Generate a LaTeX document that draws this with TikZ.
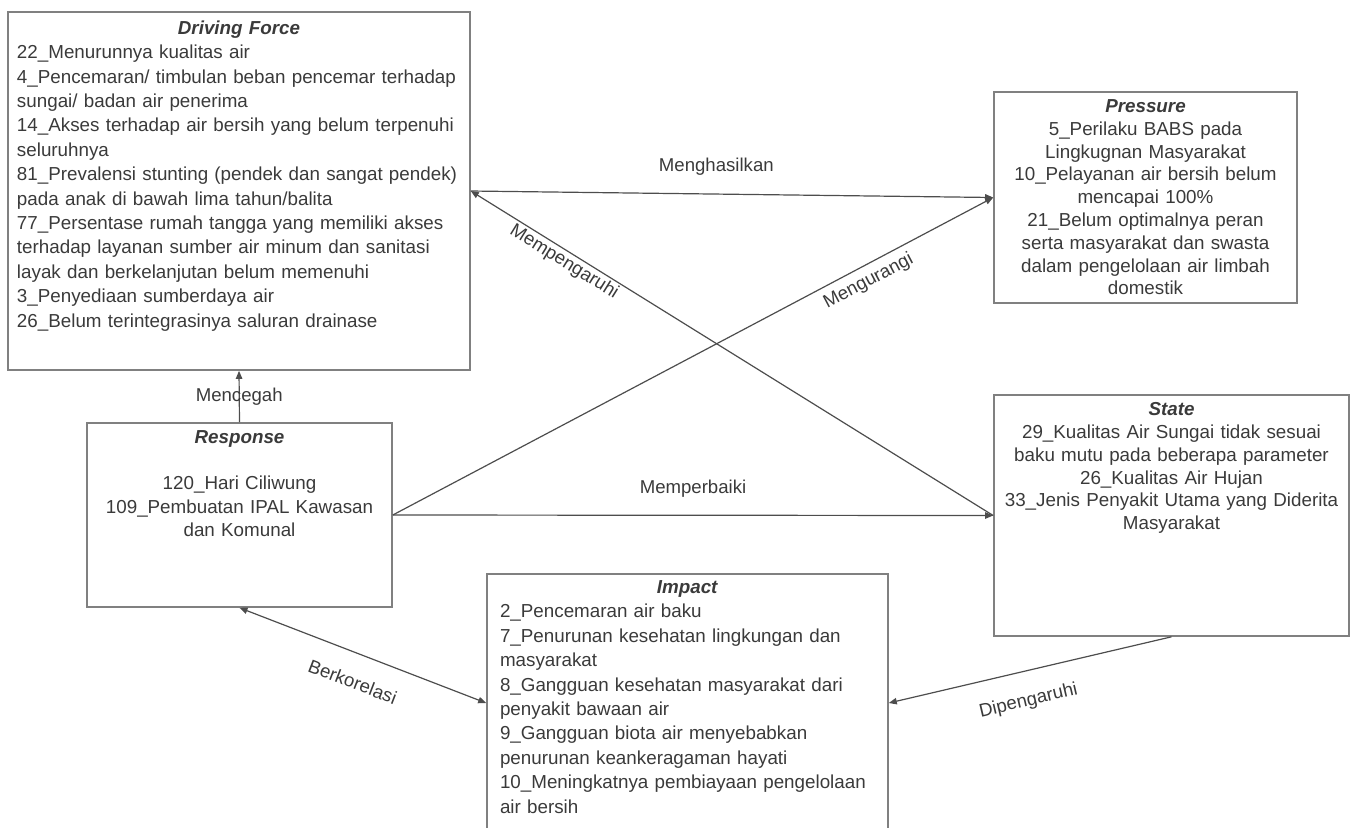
\documentclass[tikz,border=0pt]{standalone}
\usepackage{fontspec}
\setmainfont{Liberation Sans}
\usetikzlibrary{positioning,arrows.meta}
\definecolor{boxgray}{HTML}{808080}
\definecolor{linegray}{HTML}{4D4D4D}
\definecolor{txtgray}{HTML}{3A3A3A}
\newcommand{\ttl}[1]{\textbf{\textit{#1}}}
\newcommand{\midttl}[1]{\makebox[\linewidth]{\ttl{#1}}}
\begin{document}
\begin{tikzpicture}[x=0.5pt,y=-0.5pt,
  box/.style={draw=boxgray, line width=0.8pt, inner sep=0pt},
  txt/.style={inner sep=0pt, text=txtgray, font=\fontsize{9.4}{12.2}\selectfont},
  arr/.style={draw=linegray, line width=0.6pt, -{Triangle[length=4pt,width=3.2pt]}},
  lbl/.style={text=txtgray, font=\fontsize{9.3}{11}\selectfont}]
\useasboundingbox (0,0) rectangle (1357,827);
\node [box, minimum width=231pt, minimum height=179pt] (df) at (239,191) {};
\node [box, minimum width=151.5pt, minimum height=105.5pt] (pressure) at (1145.5,197.5) {};
\node [box, minimum width=177.5pt, minimum height=120.5pt] (state) at (1171.5,515.5) {};
\node [box, minimum width=152.5pt, minimum height=92pt] (response) at (239.5,515) {};
\node [box, minimum width=200.5pt, minimum height=129pt] (impact) at (687.5,703) {};
\node [txt, text width=222pt, align=left, below=4.5pt of df.north] (dftext) {\midttl{Driving Force}\\22\_Menurunnya kualitas air\\4\_Pencemaran/ timbulan beban pencemar terhadap\\sungai/ badan air penerima\\14\_Akses terhadap air bersih yang belum terpenuhi\\seluruhnya\\81\_Prevalensi stunting (pendek dan sangat pendek)\\pada anak di bawah lima tahun/balita\\77\_Persentase rumah tangga yang memiliki akses\\terhadap layanan sumber air minum dan sanitasi\\layak dan berkelanjutan belum memenuhi\\3\_Penyediaan sumberdaya air\\26\_Belum terintegrasinya saluran drainase};
\node [txt, text width=148pt, align=center, font=\fontsize{9.4}{11.4}\selectfont, below=4pt of pressure.north] (prtext) {\ttl{Pressure}\\5\_Perilaku BABS pada\\Lingkugnan Masyarakat\\10\_Pelayanan air bersih belum\\mencapai 100\%\\21\_Belum optimalnya peran\\serta masyarakat dan swasta\\dalam pengelolaan air limbah\\domestik};
\node [txt, text width=172pt, align=center, font=\fontsize{9.4}{11.4}\selectfont, below=4pt of state.north] (sttext) {\ttl{State}\\29\_Kualitas Air Sungai tidak sesuai\\baku mutu pada beberapa parameter\\26\_Kualitas Air Hujan\\33\_Jenis Penyakit Utama yang Diderita\\Masyarakat};
\node [txt, text width=148pt, align=center, font=\fontsize{9.4}{11.6}\selectfont, below=4pt of response.north] (retext) {\ttl{Response}\\[11.6pt]120\_Hari Ciliwung\\109\_Pembuatan IPAL Kawasan\\dan Komunal};
\node [txt, text width=187.5pt, align=left, below=3.5pt of impact.north] (imtext) {\midttl{Impact}\\2\_Pencemaran air baku\\7\_Penurunan kesehatan lingkungan dan\\masyarakat\\8\_Gangguan kesehatan masyarakat dari\\penyakit bawaan air\\9\_Gangguan biota air menyebabkan\\penurunan keankeragaman hayati\\10\_Meningkatnya pembiayaan pengelolaan\\air bersih};
\draw [arr] (df.east) -- node [lbl, above=5.5pt, pos=0.47] {Menghasilkan} (pressure.west);
\draw [arr] (state.west) -- node [lbl, sloped, below, inner sep=1pt, pos=0.81] {Mempengaruhi} (df.east);
\draw [arr] (response.east) -- node [lbl, sloped, below, pos=0.78] {Mengurangi} (pressure.west);
\draw [arr] (response.east) -- node [lbl, above=5.5pt] {Memperbaiki} (state.west);
\draw [arr] (response.north) -- node [lbl] {Mencegah} (df.south);
\draw [arr, {Triangle[length=4pt,width=3.2pt]}-{Triangle[length=4pt,width=3.2pt]}] (response.south) -- node [lbl, sloped, below=7pt, pos=0.5] {Berkorelasi} (impact.west);
\draw [arr] (state.south) -- node [lbl, sloped, below=7pt, pos=0.53] {Dipengaruhi} (impact.east);
\end{tikzpicture}
\end{document}
